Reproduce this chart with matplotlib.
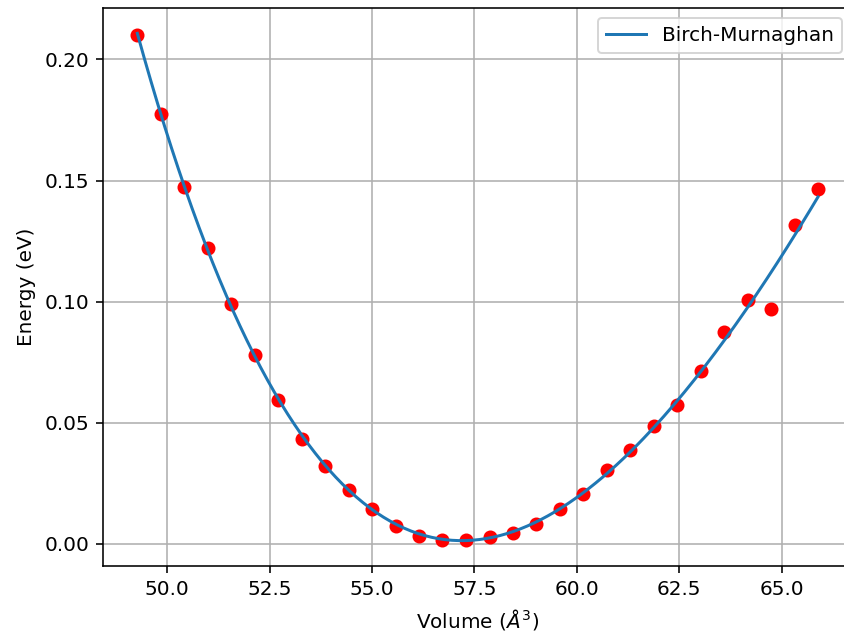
import numpy as np
import matplotlib
matplotlib.use("Agg")
import matplotlib.pyplot as plt

volumes = [49.27, 49.84, 50.42, 50.99, 51.56, 52.14, 52.71, 53.28, 53.86, 54.43,
           55.00, 55.58, 56.15, 56.72, 57.30, 57.87, 58.44, 59.01, 59.59, 60.16,
           60.73, 61.31, 61.88, 62.45, 63.03, 63.60, 64.17, 64.75, 65.32, 65.89]
energies = [0.2103, 0.1773, 0.1475, 0.1223, 0.0988, 0.0781, 0.0595, 0.0434, 0.0322, 0.0223,
            0.0145, 0.0074, 0.0033, 0.0017, 0.0017, 0.0029, 0.0045, 0.0083, 0.0145, 0.0207,
            0.0306, 0.0388, 0.0488, 0.0574, 0.0715, 0.0876, 0.1008, 0.0971, 0.1318, 0.1463]

V = np.array(volumes)
E = np.array(energies)
# Birch-Murnaghan fit: E is a cubic polynomial in V^(-2/3)
coef = np.polyfit(V ** (-2.0 / 3.0), E, 3)
Vfit = np.linspace(V.min(), V.max(), 200)
Efit = np.polyval(coef, Vfit ** (-2.0 / 3.0))

W, H, DPI = 844, 639, 144
fig = plt.figure(figsize=(W / DPI, H / DPI), dpi=DPI)
ax = fig.add_axes([103.3 / W, 1 - 566 / H, (852 - 103.3) / W, (566 - 8) / H])
ax.scatter(V, E, color="red", s=36, zorder=3)
ax.plot(Vfit, Efit, color="#1f77b4", lw=1.5, label="Birch-Murnaghan", zorder=4)
ax.set_xlabel(r"Volume ($\AA^3$)")
ax.set_ylabel("Energy (eV)")
ax.grid(True)
ax.legend(loc="upper right")
fig.savefig("out.png", dpi=DPI)
